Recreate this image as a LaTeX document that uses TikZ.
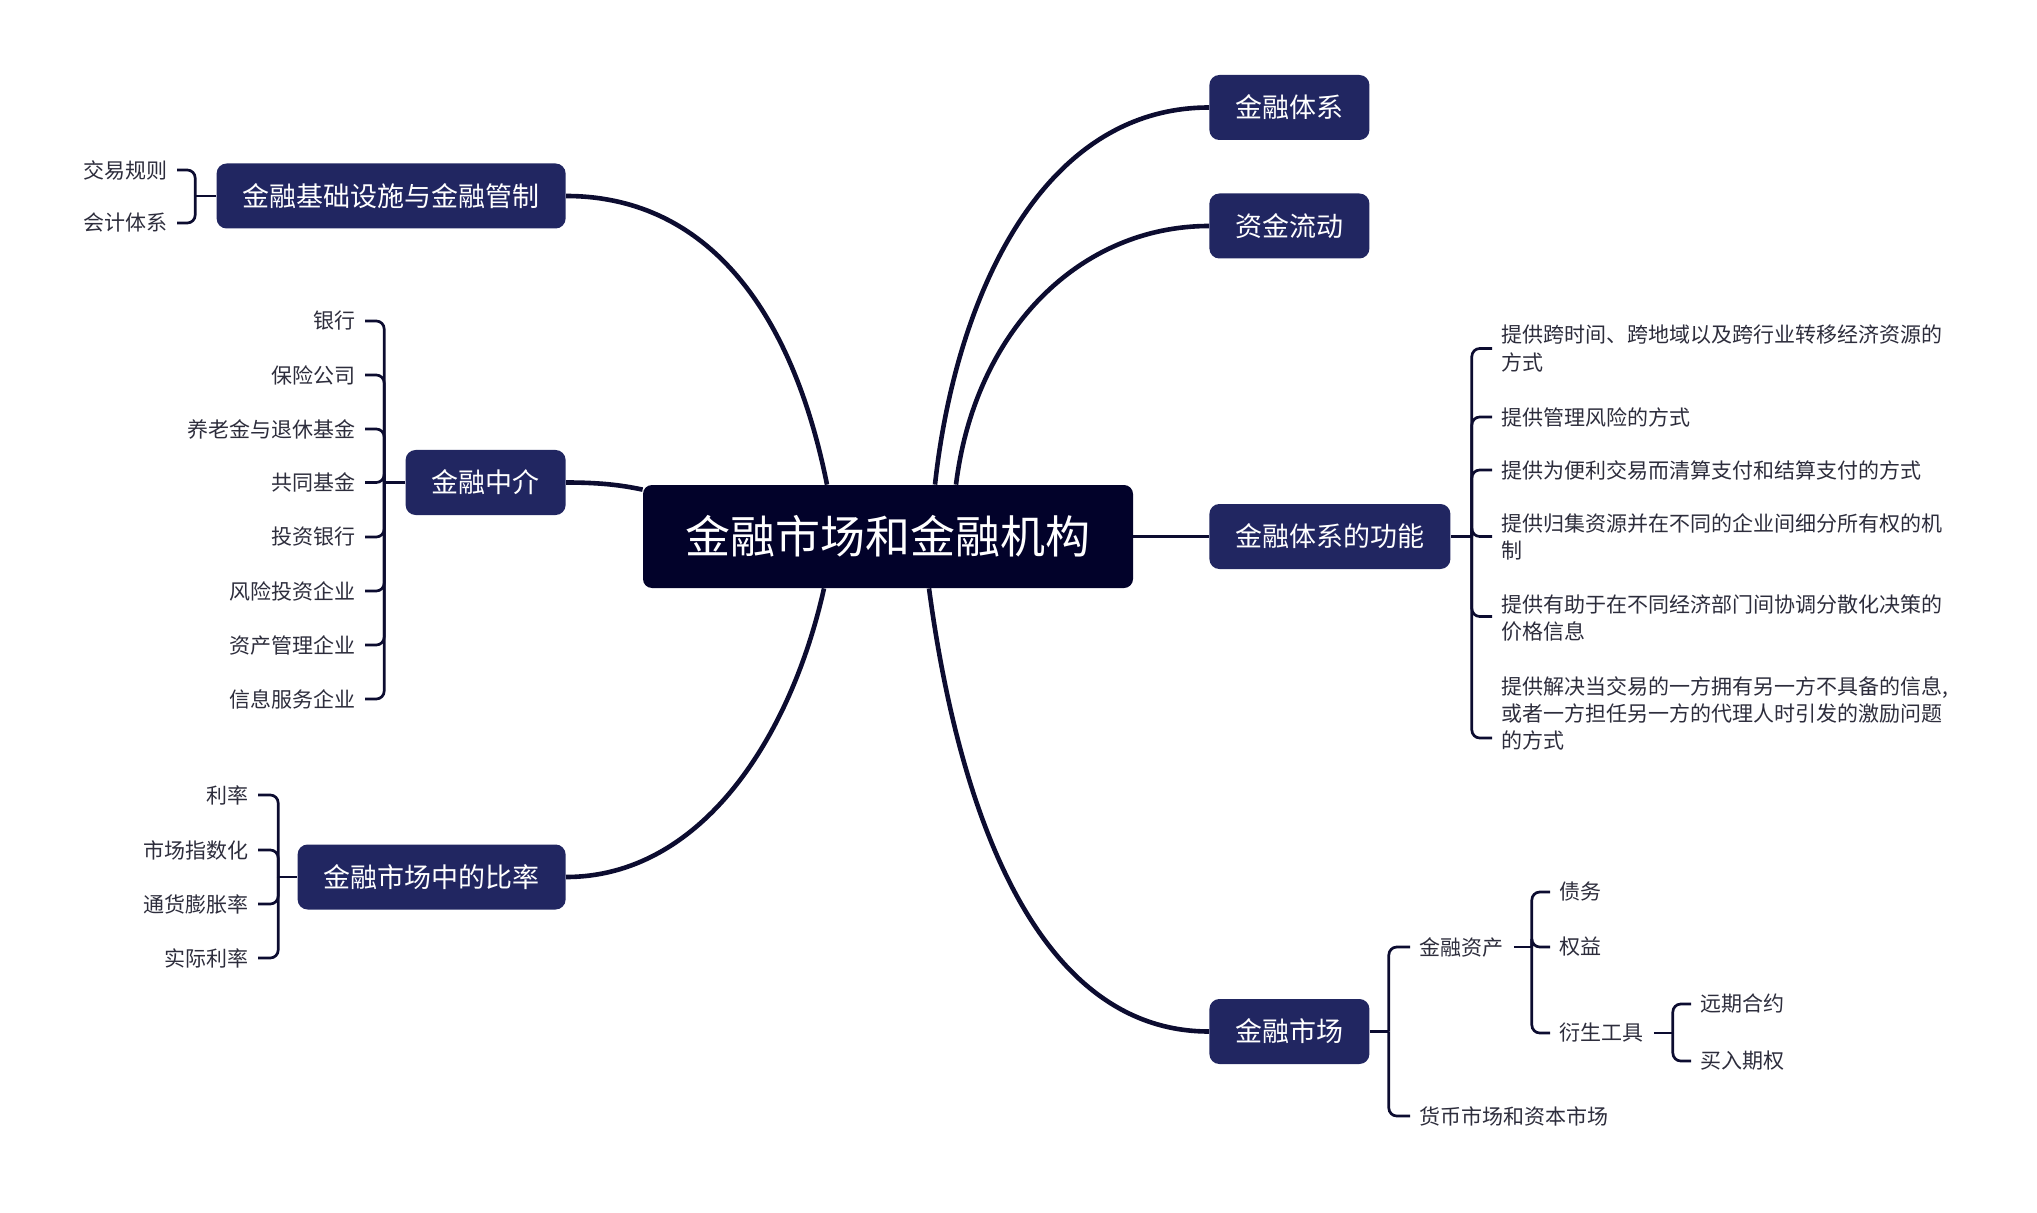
\documentclass[tikz,border=0pt]{standalone}
\usepackage{fontspec}
\setmainfont{Noto Sans CJK SC}
\usepackage{tikz}
\definecolor{linecol}{HTML}{0C0C30}
\definecolor{boxcol}{HTML}{212661}
\definecolor{rootcol}{HTML}{02022A}
\definecolor{leafcol}{HTML}{2D2D3C}
\begin{document}
\begin{tikzpicture}[x=0.5pt,y=-0.5pt]
			\tikzstyle{every node}+=[inner sep=0pt]
			\tikzstyle{rootbox}=[fill=rootcol, text=white, rounded corners=4.5pt, minimum width=245pt, minimum height=51.5pt, font=\fontsize{22.5}{27}\selectfont]
			\tikzstyle{box}=[fill=boxcol, text=white, rounded corners=5pt, inner xsep=13pt, minimum height=32.5pt, font=\fontsize{13.5}{16}\selectfont]
			\tikzstyle{leaf}=[text=leafcol, inner xsep=4.75pt, inner ysep=1pt, align=left, font=\fontsize{10.5}{13.5}\selectfont]
			\tikzstyle{trunk}=[draw=linecol, line width=2.3pt]
			\tikzstyle{twig}=[draw=linecol, line width=1.35pt, rounded corners=4pt]
			\useasboundingbox (0,0) rectangle (2037,1213);
			\node [rootbox] (root) at (888,536.5) {金融市场和金融机构};
			\node [box, anchor=west] (sys) at (1209,107.5) {金融体系};
			\node [box, anchor=west] (flow) at (1209,226) {资金流动};
			\node [box, anchor=west] (func) at (1209,536.5) {金融体系的功能};
			\node [box, anchor=west] (mkt) at (1209,1031.5) {金融市场};
			\node [box, anchor=east] (infra) at (566,196) {金融基础设施与金融管制};
			\node [box, anchor=east] (mid) at (566,482.5) {金融中介};
			\node [box, anchor=east] (ratio) at (566,877) {金融市场中的比率};
			\node [leaf, anchor=east] (i1) at (177,170) {交易规则};
			\node [leaf, anchor=east] (i2) at (177,223) {会计体系};
			\node [leaf, anchor=east] (m1) at (365,321) {银行};
			\node [leaf, anchor=east] (m2) at (365,375) {保险公司};
			\node [leaf, anchor=east] (m3) at (365,429) {养老金与退休基金};
			\node [leaf, anchor=east] (m4) at (365,482.5) {共同基金};
			\node [leaf, anchor=east] (m5) at (365,537) {投资银行};
			\node [leaf, anchor=east] (m6) at (365,591) {风险投资企业};
			\node [leaf, anchor=east] (m7) at (365,645) {资产管理企业};
			\node [leaf, anchor=east] (m8) at (365,699) {信息服务企业};
			\node [leaf, anchor=east] (r1) at (258,795) {利率};
			\node [leaf, anchor=east] (r2) at (258,850) {市场指数化};
			\node [leaf, anchor=east] (r3) at (258,904) {通货膨胀率};
			\node [leaf, anchor=east] (r4) at (258,958) {实际利率};
			\node [leaf, anchor=west] (f1) at (1492,348.5) {提供跨时间、跨地域以及跨行业转移经济资源的\\方式};
			\node [leaf, anchor=west] (f2) at (1492,417) {提供管理风险的方式};
			\node [leaf, anchor=west] (f3) at (1492,470) {提供为便利交易而清算支付和结算支付的方式};
			\node [leaf, anchor=west] (f4) at (1492,536.5) {提供归集资源并在不同的企业间细分所有权的机\\制};
			\node [leaf, anchor=west] (f5) at (1492,618.5) {提供有助于在不同经济部门间协调分散化决策的\\价格信息};
			\node [leaf, anchor=west] (f6) at (1492,713) {提供解决当交易的一方拥有另一方不具备的信息,\\或者一方担任另一方的代理人时引发的激励问题\\的方式};
			\node [leaf, anchor=west] (a1) at (1410,947) {金融资产};
			\node [leaf, anchor=west] (a2) at (1410,1116) {货币市场和资本市场};
			\node [leaf, anchor=west] (d1) at (1550,892) {债务};
			\node [leaf, anchor=west] (d2) at (1550,947) {权益};
			\node [leaf, anchor=west] (d3) at (1550,1033) {衍生工具};
			\node [leaf, anchor=west] (v1) at (1691,1004) {远期合约};
			\node [leaf, anchor=west] (v2) at (1691,1061) {买入期权};
			\draw [trunk] ([xshift=-30.5pt]root.north) .. controls (790,300) and (700,196) .. (infra.east);
			\draw [trunk] ([yshift=-2.5pt]root.north west) .. controls (625,486) and (605,482.5) .. (mid.east);
			\draw [trunk] ([xshift=-32pt]root.south) .. controls (790,740) and (700,877) .. (ratio.east);
			\draw [trunk] ([xshift=23.5pt]root.north) .. controls (955,300) and (1040,107.5) .. (sys.west);
			\draw [trunk] ([xshift=34pt]root.north) .. controls (975,330) and (1080,226) .. (flow.west);
			\draw [trunk] ([xshift=20.5pt]root.south) .. controls (960,820) and (1040,1031.5) .. (mkt.west);
			\draw [trunk, line width=1.9pt] (root.east) -- (func.west);
			\draw [twig] (infra.west) -- ([xshift=-10.5pt]infra.west) coordinate (ij);
			\draw [twig] (ij) |- (i1.east);
			\draw [twig] (ij) |- (i2.east);
			\draw [twig] (mid.west) -- ([xshift=-10.5pt]mid.west) coordinate (mj);
			\draw [twig] (mj) |- (m1.east);
			\draw [twig] (mj) |- (m2.east);
			\draw [twig] (mj) |- (m3.east);
			\draw [twig] (mj) |- (m4.east);
			\draw [twig] (mj) |- (m5.east);
			\draw [twig] (mj) |- (m6.east);
			\draw [twig] (mj) |- (m7.east);
			\draw [twig] (mj) |- (m8.east);
			\draw [twig] (ratio.west) -- ([xshift=-9.5pt]ratio.west) coordinate (rj);
			\draw [twig] (rj) |- (r1.east);
			\draw [twig] (rj) |- (r2.east);
			\draw [twig] (rj) |- (r3.east);
			\draw [twig] (rj) |- (r4.east);
			\draw [twig] (func.east) -- ([xshift=10.5pt]func.east) coordinate (fj);
			\draw [twig] (fj) |- (f1.west);
			\draw [twig] (fj) |- (f2.west);
			\draw [twig] (fj) |- (f3.west);
			\draw [twig] (fj) |- (f4.west);
			\draw [twig] (fj) |- ([yshift=1pt]f5.west);
			\draw [twig] (fj) |- ([yshift=-12.5pt]f6.west);
			\draw [twig] (mkt.east) -- ([xshift=9.5pt]mkt.east) coordinate (kj);
			\draw [twig] (kj) |- (a1.west);
			\draw [twig] (kj) |- (a2.west);
			\draw [twig] (a1.east) -- ([xshift=9pt]a1.east) coordinate (aj);
			\draw [twig] (aj) |- (d1.west);
			\draw [twig] (aj) |- (d2.west);
			\draw [twig] (aj) |- (d3.west);
			\draw [twig] (d3.east) -- ([xshift=9.5pt]d3.east) coordinate (dj);
			\draw [twig] (dj) |- (v1.west);
			\draw [twig] (dj) |- (v2.west);
			\end{tikzpicture}
\end{document}
